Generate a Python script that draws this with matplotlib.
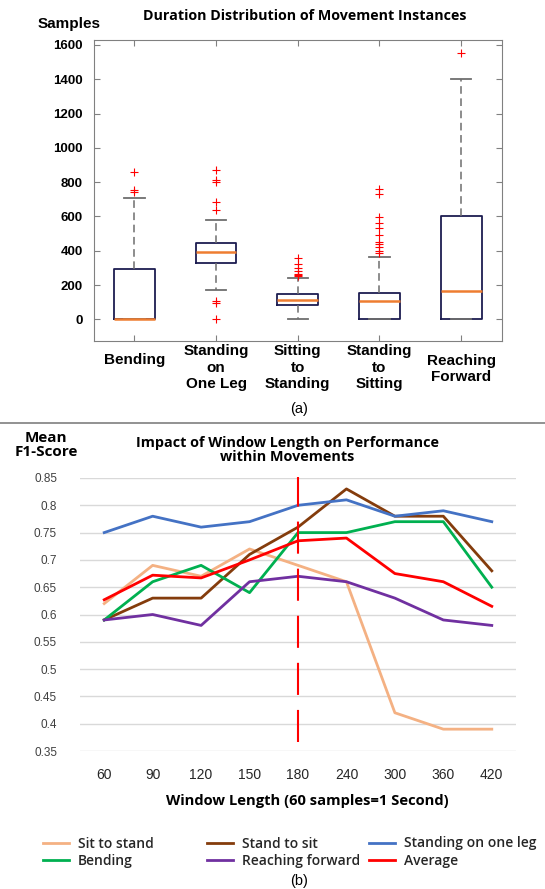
import matplotlib.pyplot as plt
from matplotlib.lines import Line2D

# ---- (a) duration distribution, box stats ----
movements = ['Bending', 'Standing\non\nOne Leg', 'Sitting\nto\nStanding',
             'Standing\nto\nSitting', 'Reaching\nForward']
q1 = [0, 330, 85, 0, 0]
medians = [3, 390, 110, 108, 168]
q3 = [295, 445, 150, 155, 605]
whisker_low = [0, 170, 0, 0, 0]
whisker_high = [705, 580, 240, 365, 1400]
outliers = [
    [740, 755, 860],
    [0, 95, 105, 640, 685, 800, 810, 870],
    [255, 260, 265, 280, 300, 320, 360],
    [385, 400, 420, 440, 450, 490, 530, 560, 595, 730, 760],
    [1555],
]

# ---- (b) mean F1-score vs window length ----
window_lengths = ['60', '90', '120', '150', '180', '240', '300', '360', '420']
sit_to_stand = [0.62, 0.69, 0.67, 0.72, 0.69, 0.66, 0.42, 0.39, 0.39]
stand_to_sit = [0.59, 0.63, 0.63, 0.71, 0.76, 0.83, 0.78, 0.78, 0.68]
standing_one_leg = [0.75, 0.78, 0.76, 0.77, 0.80, 0.81, 0.78, 0.79, 0.77]
bending = [0.59, 0.66, 0.69, 0.64, 0.75, 0.75, 0.77, 0.77, 0.65]
reaching_forward = [0.59, 0.60, 0.58, 0.66, 0.67, 0.66, 0.63, 0.59, 0.58]
average = [0.627, 0.672, 0.667, 0.70, 0.735, 0.74, 0.675, 0.66, 0.615]
chosen_window = '180'

ARIAL = 'Liberation Sans'
SEGOE = 'Open Sans'
W, H = 545, 889

fig = plt.figure(figsize=(W / 100, H / 100), dpi=100)

# ================= top: box plot =================
ax1 = fig.add_axes([93.5 / W, 1 - 341.3 / H, 408.5 / W, 301.3 / H])
stats = []
for i in range(len(movements)):
    stats.append(dict(q1=q1[i], med=medians[i], q3=q3[i], whislo=whisker_low[i],
                      whishi=whisker_high[i], fliers=outliers[i], label=movements[i]))
ax1.bxp(stats, positions=range(1, len(movements) + 1), widths=0.5, capwidths=0.25,
        boxprops=dict(color='#1c1c50', linewidth=1.3),
        medianprops=dict(color='#ee7d31', linewidth=1.8),
        whiskerprops=dict(color='#6e6e6e', linewidth=1.1, linestyle=(0, (5, 3))),
        capprops=dict(color='#6e6e6e', linewidth=1.3),
        flierprops=dict(marker='+', markeredgecolor='red', markersize=6,
                        markeredgewidth=0.8, linestyle='none'))
ax1.set_xlim(0.5, 5.5)
ax1.set_ylim(-128, 1629)
ax1.set_yticks(range(0, 1601, 200))
for s in ax1.spines.values():
    s.set_color('#808080')
ax1.tick_params(direction='in', top=True, right=True, color='#808080', length=4, pad=2.3)
ax1.tick_params(axis='y', pad=7.5)
for lab in ax1.get_yticklabels():
    lab.set_fontfamily(ARIAL)
    lab.set_fontweight('bold')
    lab.set_fontsize(9.5)
for lab in ax1.get_xticklabels():
    lab.set_fontfamily(ARIAL)
    lab.set_fontweight('bold')
    lab.set_fontsize(11)
xt = ax1.xaxis.get_major_ticks()
xt[0].set_pad(8.1)
xt[4].set_pad(8.8)

fig.text(37.5 / W, 1 - 24 / H, 'Samples', fontfamily=ARIAL, fontweight='bold',
         fontsize=11, ha='left', va='center')
fig.text(305 / W, 1 - 16 / H, 'Duration Distribution of Movement Instances',
         fontfamily=SEGOE, fontweight='bold', fontsize=10.3, ha='center', va='center')
fig.text(299 / W, 1 - 409 / H, '(a)', fontfamily=ARIAL, fontsize=10.5,
         ha='center', va='center')

# separator
fig.add_artist(Line2D([0, 1], [1 - 423.3 / H] * 2, color='#7f7f7f', linewidth=1.2))

# ================= bottom: line chart =================
ax2 = fig.add_axes([80 / W, 1 - 751 / H, 436 / W, 273 / H])
series = [
    ('Sit to stand', sit_to_stand, '#f4b183'),
    ('Stand to sit', stand_to_sit, '#843c0c'),
    ('Standing on one leg', standing_one_leg, '#4472c4'),
    ('Bending', bending, '#00b050'),
    ('Reaching forward', reaching_forward, '#7030a0'),
    ('Average', average, '#ff0000'),
]
handles = {}
for name, vals, col in series:
    ln, = ax2.plot(window_lengths, vals, color=col, linewidth=2, label=name,
                   solid_joinstyle='round')
    handles[name] = ln
ax2.axvline(window_lengths.index(chosen_window), ymin=0.033, ymax=1.004,
            color='#ff0000', linewidth=1.5, linestyle=(0, (15.4, 7.2)), zorder=5,
            clip_on=False)
ax2.set_xlim(-0.5, len(window_lengths) - 0.5)
ax2.set_ylim(0.35, 0.85)
ax2.set_yticks([0.35, 0.4, 0.45, 0.5, 0.55, 0.6, 0.65, 0.7, 0.75, 0.8, 0.85])
ax2.set_yticklabels(['0.35', '0.4', '0.45', '0.5', '0.55', '0.6', '0.65', '0.7',
                     '0.75', '0.8', '0.85'])
ax2.grid(axis='y', color='#d9d9d9', linewidth=1)
ax2.set_axisbelow(True)
for s in ax2.spines.values():
    s.set_visible(False)
ax2.tick_params(length=0)
ax2.tick_params(axis='y', pad=16.5, labelsize=8.5, labelcolor='#404040')
ax2.tick_params(axis='x', pad=12, labelsize=10, labelcolor='#262626')
for lab in ax2.get_yticklabels() + ax2.get_xticklabels():
    lab.set_fontfamily(ARIAL)

fig.text(46 / W, 1 - 445.5 / H, 'Mean\nF1-Score', fontfamily=SEGOE,
         fontweight='bold', fontsize=11, ha='center', va='center', linespacing=1.0)
fig.text(287 / W, 1 - 449.5 / H,
         'Impact of Window Length on Performance\nwithin Movements',
         fontfamily=SEGOE, fontweight='bold', fontsize=10.4, ha='center',
         va='center', linespacing=1.0)
fig.text(307 / W, 1 - 801 / H, 'Window Length (60 samples=1 Second)',
         fontfamily=SEGOE, fontweight='bold', fontsize=10.6, ha='center', va='center')

# legend: three columns of two rows, placed like the Excel legend
legend_cols = [('Sit to stand', 'Bending'),
               ('Stand to sit', 'Reaching forward'),
               ('Standing on one leg', 'Average')]
col_x = [43, 207, 369]
for names, x in zip(legend_cols, col_x):
    leg = fig.legend([handles[k] for k in names], names, loc='upper left',
                     bbox_to_anchor=(x / W, 1 - 836.5 / H), frameon=False,
                     prop=dict(family=SEGOE, weight='semibold', size=10),
                     handlelength=1.85, handletextpad=0.65, labelspacing=0.22,
                     borderpad=0, borderaxespad=0)
    for t in leg.get_texts():
        t.set_color('#262626')
fig.text(299 / W, 1 - 881 / H, '(b)', fontfamily=ARIAL, fontsize=10.5,
         ha='center', va='center')

fig.savefig('out.png', dpi=100)
